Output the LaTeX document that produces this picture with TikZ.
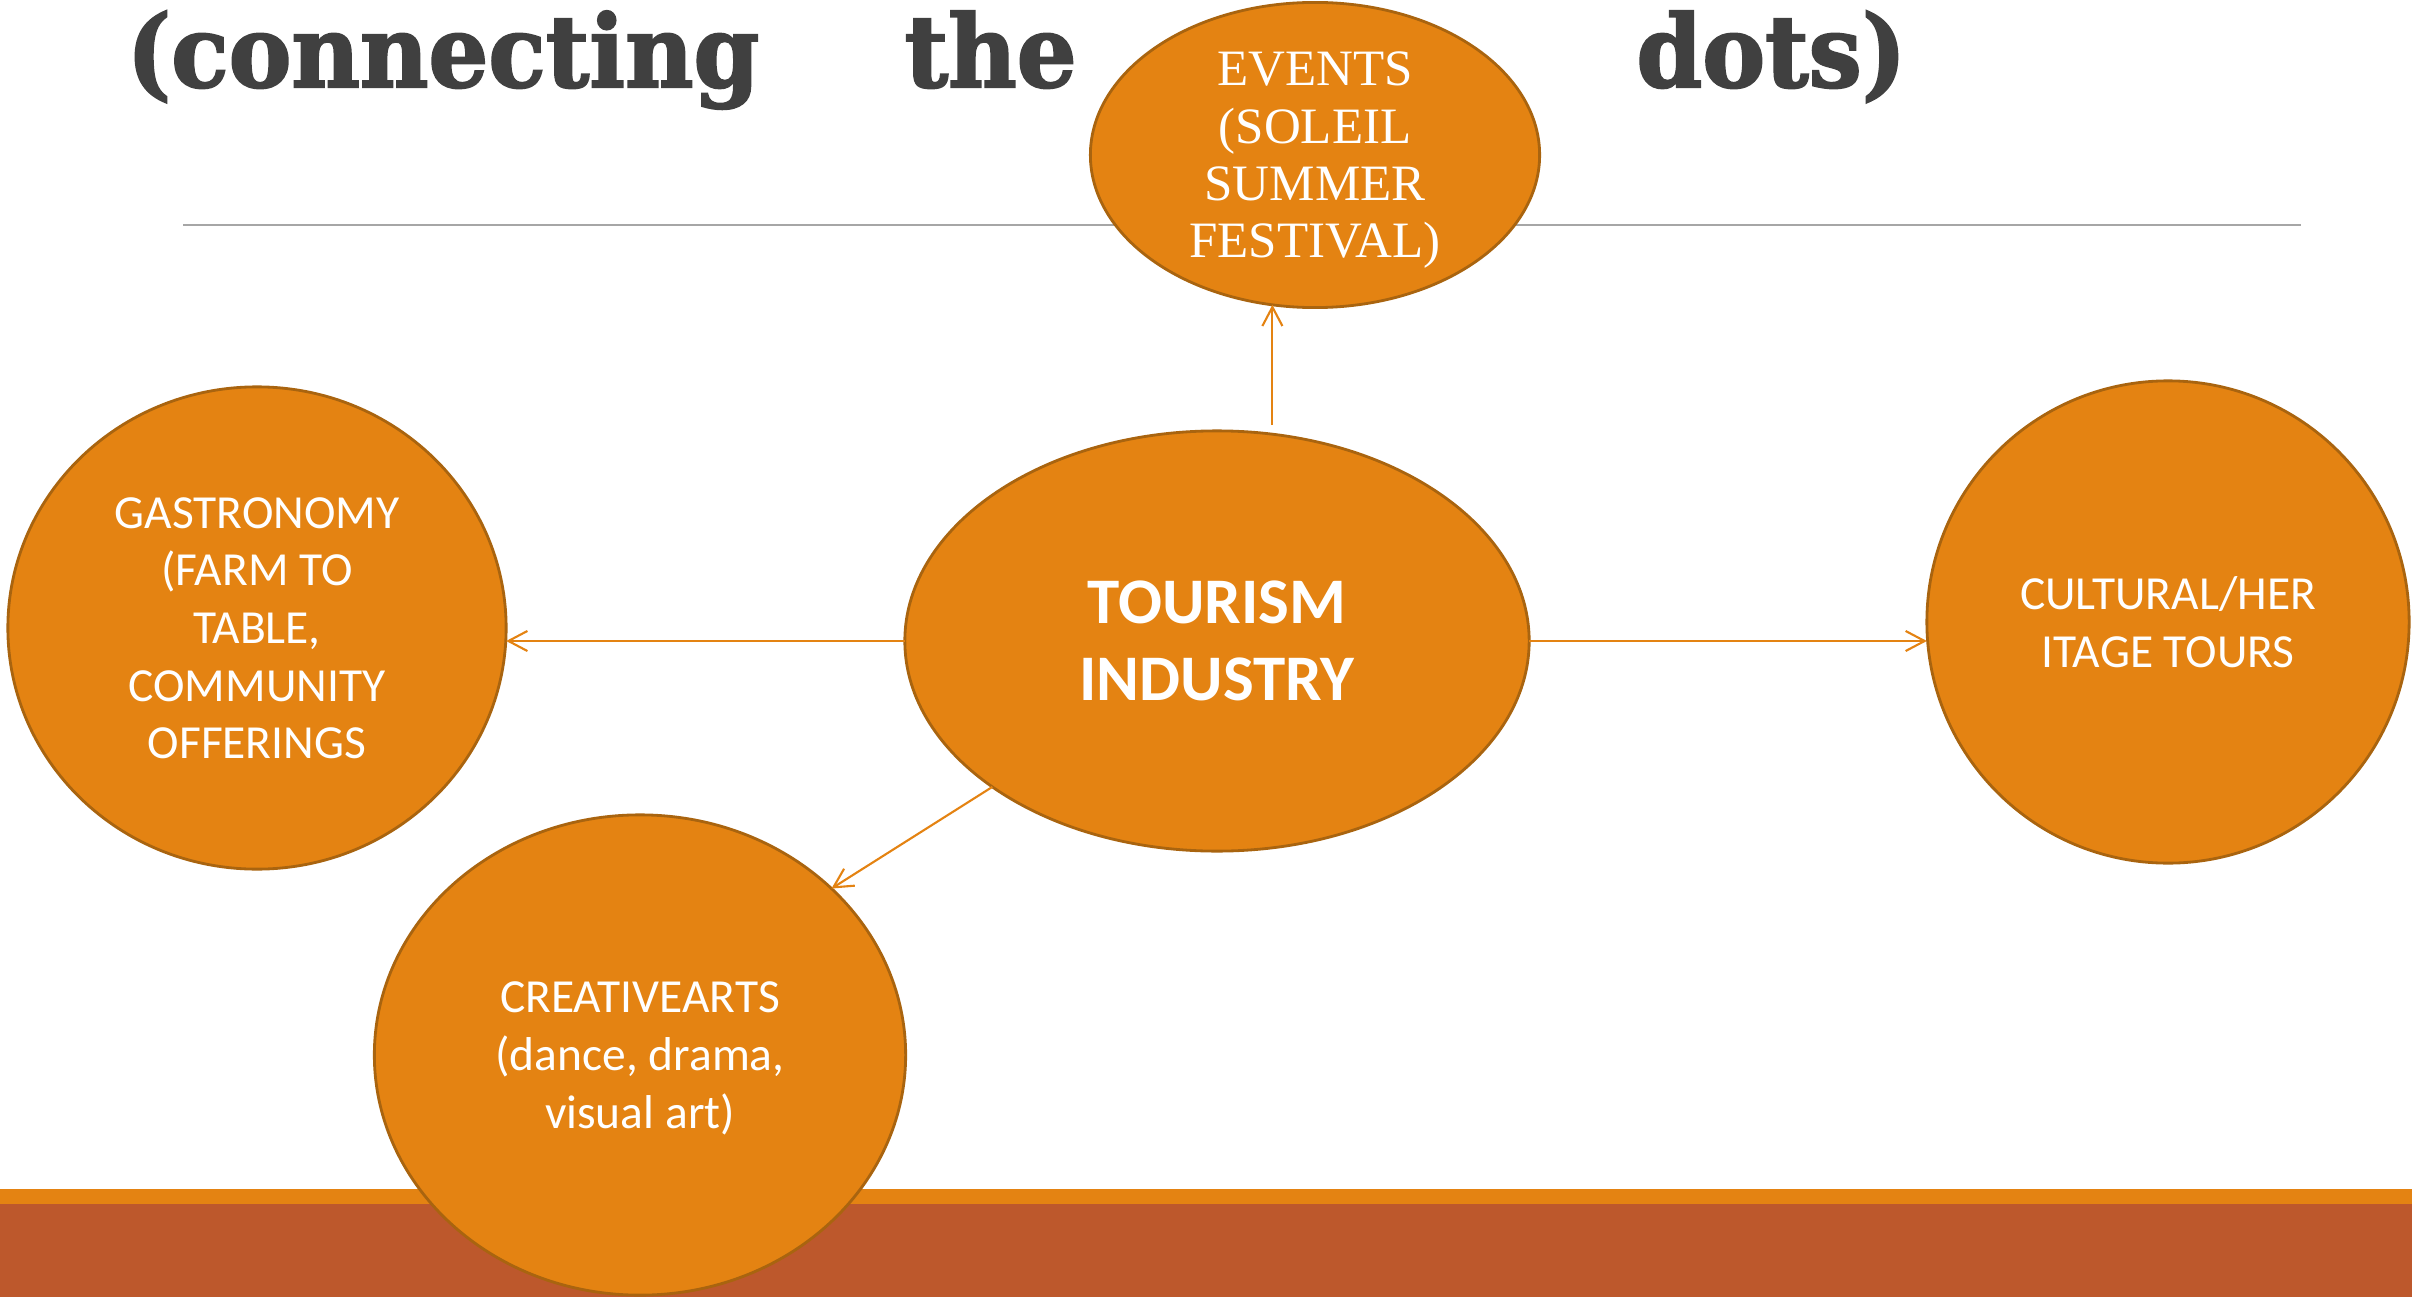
\documentclass[tikz,border=0pt]{standalone}
\usepackage{fontspec}
\usetikzlibrary{shapes.geometric,arrows.meta}
\newfontfamily\slabfont[FakeStretch=0.94, BoldFeatures={FakeBold=2}]{DejaVu Serif}
\newfontfamily\bubblefont{Carlito}
\newfontfamily\eventfont{Liberation Serif}
\definecolor{dotorange}{HTML}{E48312}
\definecolor{dotedge}{HTML}{A9640F}
\definecolor{dotrust}{HTML}{BD582C}
\definecolor{dotgray}{HTML}{404040}
\definecolor{ruleline}{HTML}{A6A6A6}
\newcommand\bubbletext{\bubblefont\fontsize{13.5}{16.4}\selectfont}
\newcommand\titletext{\slabfont\bfseries\fontsize{28.5}{30}\selectfont}
\tikzset{
  bubble/.style={ellipse, draw=dotedge, fill=dotorange, line width=0.8pt, text=white,
    align=center, inner sep=-3pt, outer sep=0pt, text depth=-2.2pt, font=\bubbletext},
  link/.style={draw=dotorange, line width=0.6pt, -{Straight Barb[length=5.4pt,width=5.7pt]}},
  titleword/.style={inner sep=0pt, text=dotgray, font=\titletext}
}

\begin{document}
\begin{tikzpicture}[x=0.01cm, y=-0.01cm]
    \useasboundingbox (0,0) rectangle (2412,1297);
    % footer bars
    \fill[dotorange] (0,1189) rectangle (2412,1204);
    \fill[dotrust] (0,1204) rectangle (2412,1297);
    \draw[ruleline, line width=0.55pt] (183,225) -- (2301,225);
    \node[titleword, anchor=base west] (wordconnect) at (126,87) {(connecting};
    \node[titleword, anchor=base west] (wordthe) at (904,87) {the};
    \node[titleword, anchor=base east] (worddots) at (1907,87) {dots)};
    \node[bubble, minimum width=4.49cm, minimum height=3.05cm,
      font=\eventfont\fontsize{14.5}{16.3}\selectfont] (events) at (1315,155) {EVENTS\\(SOLEIL\\SUMMER\\FESTIVAL)};
    \node[bubble, minimum width=6.24cm, minimum height=4.20cm, text depth=0pt,
      font=\bubblefont\bfseries\fontsize{18.5}{21.9}\selectfont] (tourism) at (1217,641) {TOURISM\\INDUSTRY};
    \node[bubble, minimum width=4.98cm, minimum height=4.82cm] (gastro) at (257,628) {GASTRONOMY\\(FARM TO\\TABLE,\\COMMUNITY\\OFFERINGS};
    \node[bubble, minimum width=4.82cm, minimum height=4.82cm, text depth=0pt] (cultural) at (2168,622) {CULTURAL/HER\\ITAGE TOURS};
    \node[bubble, minimum width=5.31cm, minimum height=4.80cm] (creative) at (640,1055) {CREATIVEARTS\\(dance, drama,\\visual art)};
    \draw[link] ([yshift=0.09cm]tourism.75) -- (events.254 -| tourism.75);
    \draw[link] (tourism.west) -- (gastro.east |- tourism.west);
    \draw[link] (tourism.213.3) -- (creative.41.8);
    \draw[link] (tourism.east) -- (cultural.west |- tourism.east);
\end{tikzpicture}
\end{document}
